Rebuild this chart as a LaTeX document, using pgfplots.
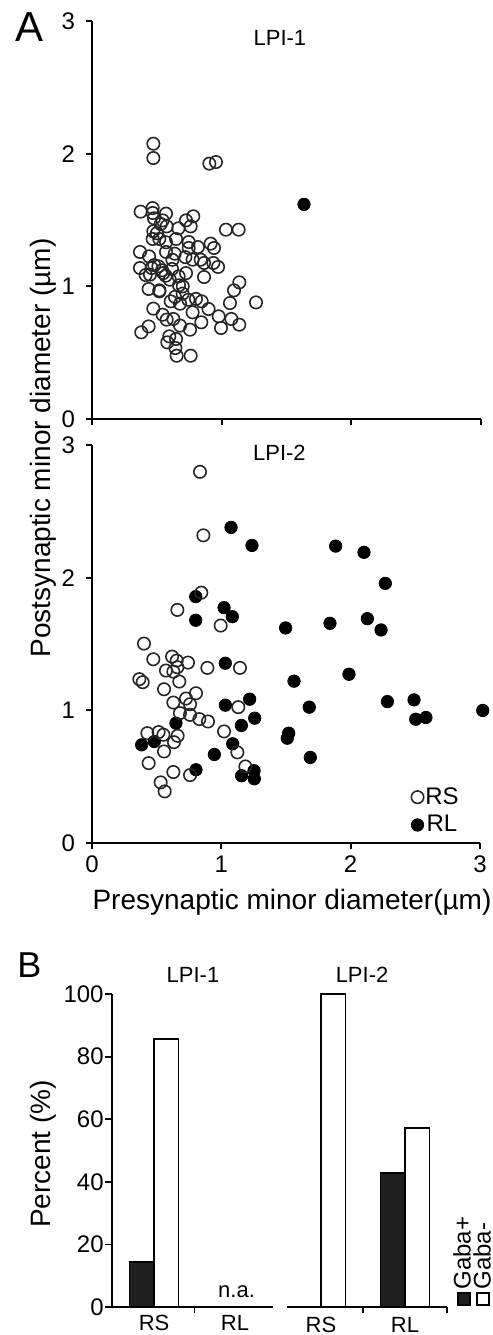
\documentclass[border=0pt]{standalone}
\usepackage{fontspec}
\setmainfont{Liberation Sans}
\usepackage{pgfplots}
\pgfplotsset{compat=1.18}

\newcommand\ftick{\fontsize{12bp}{14bp}\selectfont}
\newcommand\fsmall{\fontsize{11bp}{13bp}\selectfont}
\newcommand\flab{\fontsize{14bp}{16bp}\selectfont}

\pgfplotsset{
  scat/.style={
    scale only axis, width=194.5bp, height=199bp,
    axis lines=left, axis line style={-, line width=1bp},
    xmin=0, xmax=3, ymin=0, ymax=3,
    xtick={0,1,2,3}, ytick={0,1,2,3},
    tick align=outside, major tick length=3bp,
    tick style={black, line width=1bp},
    tick label style={font=\ftick},
    yticklabel style={xshift=-2bp},
    /pgf/number format/assume math mode=true,
    clip=false,
  },
  rs/.style={only marks, mark=o, mark size=3.1bp, mark options={line width=0.8bp, draw=black!85}},
  rl/.style={only marks, mark=*, mark size=3.1bp, mark options={draw=black, fill=black}},
  bars/.style={
    scale only axis, height=156.5bp, ymin=0, ymax=100,
    axis x line=bottom,
    ybar=0pt, bar width=12.25bp,
    xtick={0,1}, xticklabels={RS,RL}, xtick style={draw=none},
    extra x tick style={xtick style={draw=black, line width=0.9bp}, tick align=outside, major tick length=3bp},
    extra x tick labels={},
    xticklabel style={font=\fsmall, inner sep=0.5bp},
    yticklabel style={font=\ftick, inner sep=0.5bp},
    /pgf/number format/assume math mode=true,
    clip=false,
  },
  gp/.style={fill=black!88, draw=black, line width=0.8bp},
  gm/.style={fill=white, draw=black, line width=0.8bp},
}

\begin{document}
\begin{tikzpicture}
\useasboundingbox (0bp,0bp) rectangle (246.5bp,-667.5bp);

% ---- A, LPI-1
\begin{axis}[scat, at={(46bp,-209.5bp)}, anchor=south west, xticklabels={}]
\addplot[rs] coordinates {
(0.473,2.075)(0.473,1.967)(0.905,1.925)(0.956,1.937)(0.375,1.563)(0.468,1.590)
(0.468,1.553)(0.571,1.548)(0.478,1.513)(0.545,1.497)(0.576,1.452)(0.666,1.437)
(0.725,1.497)(0.781,1.528)(0.761,1.452)(0.473,1.415)(0.468,1.357)(0.519,1.357)
(0.571,1.332)(0.648,1.357)(1.033,1.427)(1.131,1.427)(0.370,1.259)(0.440,1.226)
(0.571,1.259)(0.638,1.246)(0.746,1.334)(0.746,1.289)(0.817,1.296)(0.915,1.322)
(0.941,1.289)(0.776,1.201)(0.838,1.201)(0.864,1.176)(0.936,1.176)(0.972,1.146)
(0.370,1.138)(0.414,1.085)(0.460,1.138)(0.447,1.088)(0.512,1.151)(0.540,1.121)
(0.568,1.080)(0.617,1.131)(0.668,1.075)(0.725,1.100)(0.671,1.008)(0.864,1.070)
(1.136,1.030)(1.095,0.970)(0.437,0.980)(0.519,0.962)(0.699,0.945)(0.607,0.887)
(0.679,0.869)(0.743,0.899)(0.802,0.905)(0.846,0.887)(0.776,0.804)(0.899,0.829)
(1.064,0.874)(1.265,0.879)(0.473,0.832)(0.545,0.786)(0.576,0.749)(0.627,0.754)
(0.679,0.704)(0.756,0.673)(0.843,0.729)(0.977,0.774)(0.995,0.686)(1.075,0.754)
(1.136,0.711)(0.380,0.653)(0.437,0.698)(0.596,0.623)(0.648,0.603)(0.581,0.578)
(0.643,0.535)(0.653,0.477)(0.761,0.477)(0.500,1.400)(0.530,1.470)(0.620,1.200)
(0.640,0.920)(0.550,1.100)(0.480,1.160)(0.720,1.220)(0.600,1.050)(0.700,1.000)
(0.520,0.970)
};
\addplot[rl] coordinates {(1.635,1.618)};
\node[font=\fsmall] at (rel axis cs:0.483,0.957) {LPI-1};
\end{axis}

% ---- A, LPI-2
\begin{axis}[scat, at={(46bp,-421.5bp)}, anchor=south west, width=194bp,
  reverse legend,
  legend style={at={(0.822,0.145)}, anchor=north west, draw=none, fill=none,
    font=\ftick, inner sep=0pt, row sep=2.5bp, nodes={inner sep=0.8bp}}]
\addplot[rl] coordinates {
(1.075,2.379)(1.237,2.243)(1.884,2.238)(2.103,2.191)(2.268,1.957)(0.802,1.857)
(1.021,1.774)(1.085,1.706)(0.802,1.679)(1.497,1.621)(1.840,1.656)(2.129,1.691)
(2.235,1.606)(1.031,1.355)(1.987,1.272)(1.562,1.220)(1.219,1.084)(1.031,1.039)
(2.284,1.066)(2.490,1.079)(1.680,1.024)(1.258,0.941)(2.503,0.933)(2.582,0.946)
(3.021,0.999)(0.649,0.903)(1.155,0.886)(1.521,0.828)(1.510,0.790)(0.384,0.740)
(0.482,0.765)(1.088,0.748)(0.946,0.667)(1.688,0.645)(0.804,0.552)(1.253,0.545)
(1.157,0.507)(1.255,0.484)
};
\addlegendentry{RL}
\addplot[rs] coordinates {
(0.835,2.798)(0.861,2.319)(0.845,1.887)(0.660,1.757)(0.995,1.639)(0.402,1.503)
(0.474,1.385)(0.619,1.405)(0.655,1.375)(0.742,1.360)(0.572,1.300)(0.629,1.292)
(0.660,1.325)(0.892,1.320)(1.144,1.320)(0.366,1.235)(0.392,1.212)(0.675,1.217)
(0.557,1.159)(0.804,1.129)(0.727,1.089)(0.629,1.059)(0.758,1.046)(0.680,0.979)
(0.758,0.966)(0.830,0.934)(0.897,0.916)(1.131,1.024)(1.021,0.841)(0.428,0.828)
(0.515,0.836)(0.552,0.816)(0.662,0.808)(0.634,0.760)(0.557,0.690)(1.124,0.683)
(0.438,0.602)(1.186,0.577)(0.629,0.535)(0.758,0.512)(0.531,0.457)(0.562,0.389)
};
\addlegendentry{RS}
\node[font=\fsmall] at (rel axis cs:0.483,0.98) {LPI-2};
\end{axis}

\node[rotate=90, anchor=base, font=\flab] at (25bp,-224bp) {Postsynaptic minor diameter (µm)};
\node[anchor=base, font=\flab] at (146bp,-454.5bp) {Presynaptic minor diameter(µm)};
\node[font=\fontsize{21bp}{24bp}\selectfont] at (15bp,-13.75bp) {A};
\node[font=\fontsize{18bp}{21bp}\selectfont] at (14.75bp,-482.75bp) {B};

% ---- B, LPI-1
\begin{axis}[bars, at={(56bp,-653.5bp)}, anchor=south west, width=80.5bp,
  xmin=-0.52, xmax=1.47, extra x ticks={0.5},
  axis y line=left, ytick={0,20,...,100}, ytick style={draw=black, line width=0.9bp},
  tick align=outside, major tick length=3.5bp,
  axis line style={-, line width=0.9bp}]
\addplot[gp] coordinates {(0,14.3)};
\addplot[gm] coordinates {(0,85.7)};
\node[font=\fsmall, anchor=base] at (axis cs:1.02,3.2) {n.a.};
\node[font=\fsmall] at (rel axis cs:0.503,1.06) {LPI-1};
\end{axis}
\node[rotate=90, anchor=base, font=\flab] at (25bp,-577bp) {Percent (\%)};

% ---- B, LPI-2
\begin{axis}[bars, at={(143.5bp,-653.5bp)}, anchor=south west, width=80bp,
  xmin=-0.405, xmax=1.5, extra x ticks={0.5,1.5},
  axis y line=none, tick align=outside,
  axis line style={-, line width=0.9bp}]
\addplot[gp] coordinates {(1,42.9)};
\addplot[gm] coordinates {(0,100)(1,57.1)};
\node[font=\fsmall] at (rel axis cs:0.469,1.06) {LPI-2};
\end{axis}

% Gaba legend, set upright along the right edge
\draw[fill=black!88, draw=black, line width=0.8bp] (229bp,-646.5bp) rectangle (235bp,-652.5bp);
\draw[fill=white, draw=black, line width=0.8bp] (238.5bp,-646.5bp) rectangle (244.5bp,-652.5bp);
\node[rotate=90, anchor=west, font=\ftick, inner sep=0pt] at (231bp,-645bp) {Gaba+};
\node[rotate=90, anchor=west, font=\ftick, inner sep=0pt] at (241bp,-645bp) {Gaba-};
\end{tikzpicture}
\end{document}
